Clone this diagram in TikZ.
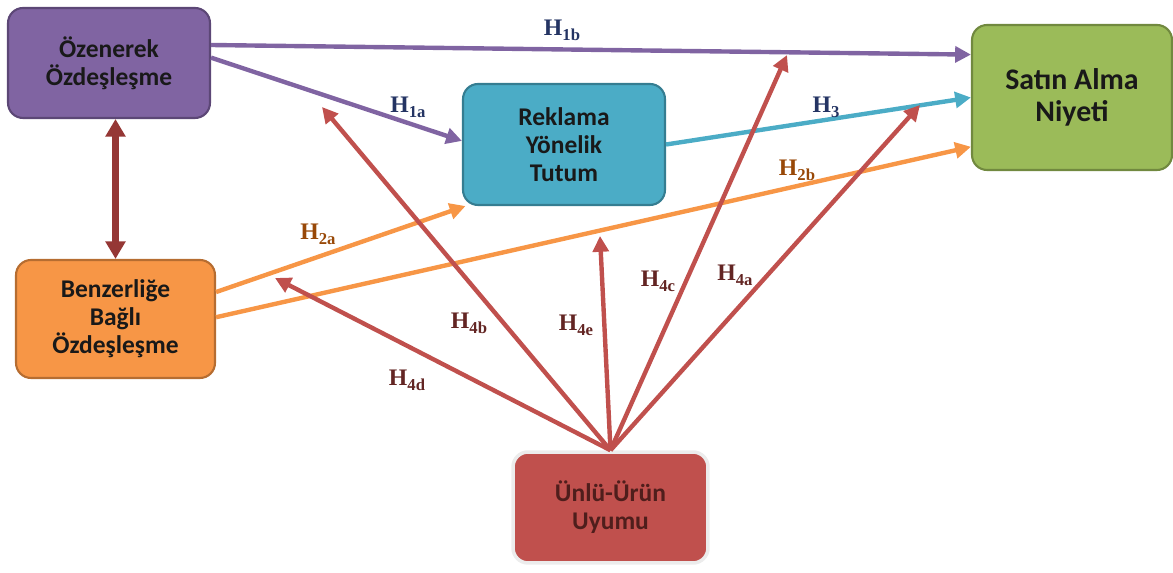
\documentclass[tikz,border=0pt]{standalone}
\usepackage{fontspec}
\setmainfont{Liberation Serif}
\newfontfamily\boxfont{Carlito}
\usetikzlibrary{arrows.meta}

\definecolor{ozfill}{HTML}{8064A2}
\definecolor{ozline}{HTML}{5C4776}
\definecolor{rkfill}{HTML}{4BACC6}
\definecolor{rkline}{HTML}{357D91}
\definecolor{safill}{HTML}{9BBB59}
\definecolor{saline}{HTML}{71893F}
\definecolor{befill}{HTML}{F79646}
\definecolor{beline}{HTML}{B66D31}
\definecolor{unfill}{HTML}{C0504D}
\definecolor{dred}{HTML}{953735}
\definecolor{navy}{HTML}{243463}
\definecolor{brown}{HTML}{984807}
\definecolor{maroon}{HTML}{632523}

\tikzset{
  box/.style={rounded corners=0.3cm, line width=1.2pt, align=center, inner sep=0pt,
    font=\boxfont\bfseries\fontsize{14.5}{16}\selectfont, text=black!90},
  arr/.style={line width=2.5pt, -{Triangle[length=9pt,width=9pt]}},
  dbl/.style={line width=4pt, {Triangle[length=10pt,width=11pt]}-{Triangle[length=10pt,width=11pt]}, color=dred},
  hlab/.style={font=\fontsize{13.5}{13.5}\selectfont\bfseries}
}
\newcommand{\hyp}[1]{H\raisebox{-3pt}{\fontsize{9.5}{9.5}\selectfont #1}}

\begin{document}
\begin{tikzpicture}[x=0.02cm, y=-0.02cm]
    \useasboundingbox (0,0) rectangle (1173,573);
    % Boxes
    \node[box, fill=ozfill, draw=ozline, minimum width=4.04cm, minimum height=2.2cm] (oz) at (109,63) {Özenerek\\Özdeşleşme};
    \node[box, fill=rkfill, draw=rkline, minimum width=4.04cm, minimum height=2.42cm] (rek) at (564,144.5) {Reklama\\Yönelik\\Tutum};
    \node[box, fill=safill, draw=saline, minimum width=4.0cm, minimum height=2.9cm,
          font=\boxfont\bfseries\fontsize{17}{18}\selectfont] (sat) at (1072,97.5) {Satın Alma\\Niyeti};
    \node[box, fill=befill, draw=beline, minimum width=3.98cm, minimum height=2.36cm] (ben) at (115.5,319) {Benzerliğe\\Bağlı\\Özdeşleşme};
    \node[box, fill=unfill, draw=white!85!gray, line width=2pt, minimum width=3.9cm, minimum height=2.22cm,
          text=maroon!80!black] (unl) at (610.5,507.5) {Ünlü-Ürün\\Uyumu};

    % Double arrow
    \draw[dbl] (oz.south -| ben.north) -- (ben.north);

    % H1 and H3
    \draw[arr, ozfill] (oz.10) -- (sat.157);
    \draw[arr, ozfill] (oz.3) -- (rek.178);
    \draw[arr, rkfill] (rek.east) -- (sat.west);

    % H2
    \draw[arr, befill] (ben.15) -- (rek.212);
    \draw[arr, befill] (ben.1) -- (sat.206);

    % H4 arrows end on other lines
    \coordinate (t4d) at (275,278);
    \coordinate (t4b) at (322,107);
    \coordinate (t4e) at (600,236);
    \coordinate (t4c) at (787,55);
    \coordinate (t4a) at (920,105);
    \foreach \t in {t4d,t4b,t4e,t4c,t4a}
        \draw[arr, unfill] (unl.north) -- (\t);

    % Labels
    \node[hlab, text=navy] (h1b) at (562,30) {\hyp{1b}};
    \node[hlab, text=navy] (h1a) at (408,107) {\hyp{1a}};
    \node[hlab, text=navy] (h3) at (826,107) {\hyp{3}};
    \node[hlab, text=brown] (h2a) at (318,234) {\hyp{2a}};
    \node[hlab, text=brown] (h2b) at (797,170) {\hyp{2b}};
    \node[hlab, text=maroon] (h4b) at (469,323) {\hyp{4b}};
    \node[hlab, text=maroon] (h4d) at (407,380) {\hyp{4d}};
    \node[hlab, text=maroon] (h4e) at (576,325) {\hyp{4e}};
    \node[hlab, text=maroon] (h4c) at (658,281) {\hyp{4c}};
    \node[hlab, text=maroon] (h4a) at (735,275) {\hyp{4a}};
\end{tikzpicture}
\end{document}
